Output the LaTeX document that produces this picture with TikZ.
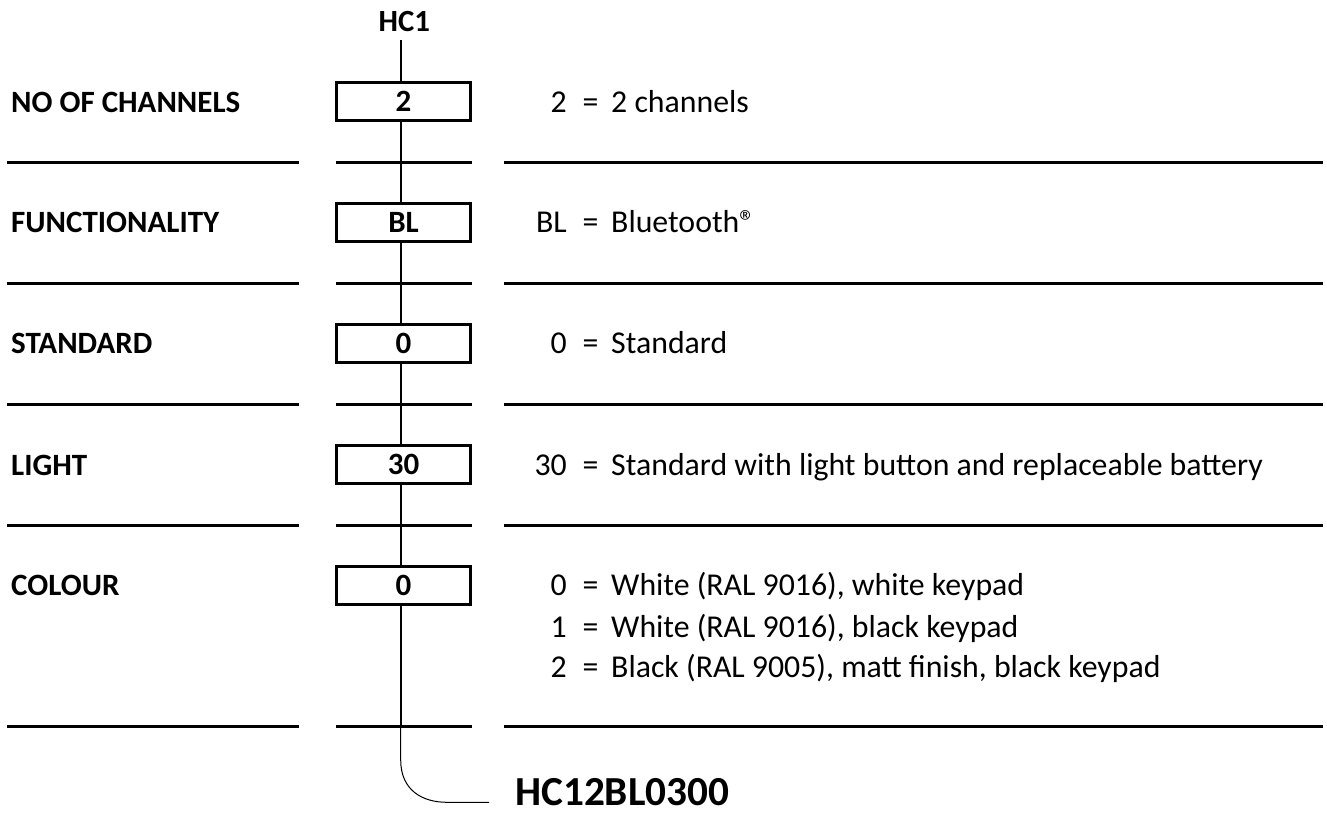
\documentclass[tikz,border=0pt]{standalone}
\usepackage{fontspec}
\setmainfont{Carlito}
\begin{document}
\begin{tikzpicture}[x=1pt,y=-1pt,
  rule/.style={line width=3pt},
  stem/.style={line width=2pt},
  codebox/.style={draw,line width=3pt,minimum width=134pt,minimum height=38pt,inner sep=0pt,font=\fontsize{31}{36}\selectfont\bfseries},
  lbl/.style={anchor=base west,inner sep=0pt,font=\fontsize{31}{37}\selectfont\bfseries},
  txt/.style={anchor=base west,inner sep=0pt,font=\fontsize{31.8}{37}\selectfont},
  codetxt/.style={anchor=base east,inner sep=0pt,font=\fontsize{31.8}{37}\selectfont},
  eqtxt/.style={anchor=base,inner sep=0pt,font=\fontsize{31.8}{37}\selectfont}]
\useasboundingbox (0,0) rectangle (1327,813);

% separator rules
\foreach \y in {162.3,283.3,404.3,525.3,726} {
  \draw[rule] (7,\y) -- (298.7,\y);
  \draw[rule] (336.3,\y) -- (472,\y);
  \draw[rule] (504.3,\y) -- (1322.7,\y);
}

% header
\node[anchor=base,inner sep=0pt,font=\fontsize{30.8}{36}\selectfont\bfseries] (hc) at (404.3,31.7) {HC1};
\coordinate (top) at (400.7,40);

% boxes
\node[codebox] (b1) at (403.5,101.3) {2};
\node[codebox] (b2) at (403.5,222.3) {BL};
\node[codebox] (b3) at (403.5,343.0) {0};
\node[codebox] (b4) at (403.5,464.3) {30};
\node[codebox] (b5) at (403.5,585.3) {0};
\coordinate (r5) at (400.7,726);

% stem
\draw[stem] (top) -- (top |- b1.north);
\draw[stem] (top |- b1.south) -- (top |- b2.north);
\draw[stem] (top |- b2.south) -- (top |- b3.north);
\draw[stem] (top |- b3.south) -- (top |- b4.north);
\draw[stem] (top |- b4.south) -- (top |- b5.north);
\draw[stem] (top |- b5.south) -- (r5);

% left labels
\node[lbl] (l1) at (11,112.3) {NO OF CHANNELS};
\node[lbl] (l2) at (11,232.3) {FUNCTIONALITY};
\node[lbl] (l3) at (11,353.5) {STANDARD};
\node[lbl] (l4) at (11,475.0) {LIGHT};
\node[lbl] (l5) at (11,595.7) {COLOUR};

% right descriptions
\node[codetxt] (c1) at (567,112.3) {2};
\node[eqtxt] (e1) at (590.5,112.3) {=};
\node[txt] (d1) at (611,112.3) {2 channels};

\node[codetxt] (c2) at (567,232.3) {BL};
\node[eqtxt] (e2) at (590.5,232.3) {=};
\node[txt] (d2) at (611,232.3) {Bluetooth®};

\node[codetxt] (c3) at (567,353.5) {0};
\node[eqtxt] (e3) at (590.5,353.5) {=};
\node[txt] (d3) at (611,353.5) {Standard};

\node[codetxt] (c4) at (567,475.0) {30};
\node[eqtxt] (e4) at (590.5,475.0) {=};
\node[txt] (d4) at (611,475.0) {Standard with light button and replaceable battery};

\node[codetxt] (c5) at (567,595.7) {0};
\node[eqtxt] (e5) at (590.5,595.7) {=};
\node[txt] (d5) at (611,595.7) {White (RAL 9016), white keypad};

\node[codetxt] (c6) at (567,637.3) {1};
\node[eqtxt] (e6) at (590.5,637.3) {=};
\node[txt] (d6) at (611,637.3) {White (RAL 9016), black keypad};

\node[codetxt] (c7) at (567,677.3) {2};
\node[eqtxt] (e7) at (590.5,677.3) {=};
\node[txt] (d7) at (611,677.3) {Black (RAL 9005), matt finish, black keypad};

% result code
\node[anchor=base west,inner sep=0pt,font=\fontsize{41.3}{46}\selectfont\bfseries] (res) at (515,805.7) {HC12BL0300};
\coordinate (cend) at (res.west |- 0,802.3);
\draw[line width=1pt] (400.7,728) -- (400.7,760) .. controls (400.7,790) and (422,802.3) .. (447,802.3) -- ([xshift=-26pt]cend);
\end{tikzpicture}
\end{document}
